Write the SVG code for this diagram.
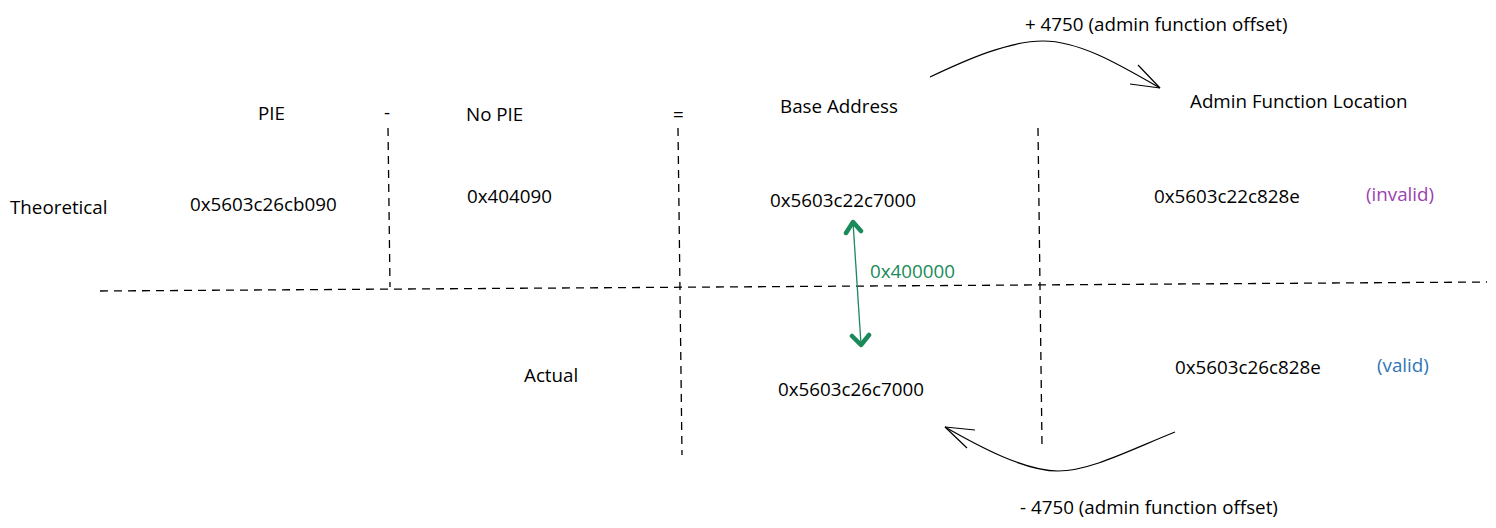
<svg xmlns="http://www.w3.org/2000/svg" width="1496" height="528" viewBox="0 0 1496 528">
<style>
text{font-family:"Open Sans","Noto Sans",sans-serif;font-size:18.8px;fill:#000}
.dash{stroke:#000;stroke-width:1.3;stroke-dasharray:8 6;fill:none}
.curve{stroke:#000;stroke-width:1.2;fill:none}
.g{fill:#1a8a5a}
</style>
<rect width="1496" height="528" fill="#fff"/>
<g id="connectors">
<path class="dash" d="M100 291 L1487 282"/>
<path class="dash" d="M388 128 L390 287"/>
<path class="dash" d="M678 128 L682 455"/>
<path class="dash" d="M1038 128 L1042 445"/>
<path class="curve" d="M930 77 C970 58 1010 41 1043 41 C1080 41 1120 65 1160 88"/>
<path class="curve" d="M1160 88 L1138 65 M1160 88 L1130 84"/>
<path class="curve" d="M1175 432 C1130 450 1090 471 1058 471 C1025 471 980 447 945 427"/>
<path class="curve" d="M945 427 L975 430 M945 427 L967 448"/>
<path d="M853 222 L861 344" stroke="#1a8a5a" stroke-width="1.3" fill="none"/>
<path d="M846 233 L853 222 L861 231 M852 336 L861 345 L869 335" stroke="#1a8a5a" stroke-width="4.5" stroke-linecap="round" stroke-linejoin="round" fill="none"/>
</g>
<g id="headers">
<text x="258" y="120">PIE</text>
<text x="384" y="119">-</text>
<text x="466" y="121">No PIE</text>
<text x="673" y="121">=</text>
<text x="780" y="113">Base Address</text>
<text x="1190" y="108">Admin Function Location</text>
</g>
<g id="theoretical">
<text x="10" y="214">Theoretical</text>
<text x="190" y="211">0x5603c26cb090</text>
<text x="467" y="203">0x404090</text>
<text x="770" y="207">0x5603c22c7000</text>
<text x="1154" y="203">0x5603c22c828e</text>
<text x="1366" y="201" style="fill:#9b3fb0">(invalid)</text>
</g>
<g id="actual">
<text x="524" y="382">Actual</text>
<text x="778" y="396">0x5603c26c7000</text>
<text x="1175" y="374">0x5603c26c828e</text>
<text x="1377" y="372" style="fill:#2e75b6">(valid)</text>
</g>
<g id="labels">
<text x="870" y="278" class="g">0x400000</text>
<text x="1025" y="31">+ 4750 (admin function offset)</text>
<text x="1020" y="514">- 4750 (admin function offset)</text>
</g>
</svg>
